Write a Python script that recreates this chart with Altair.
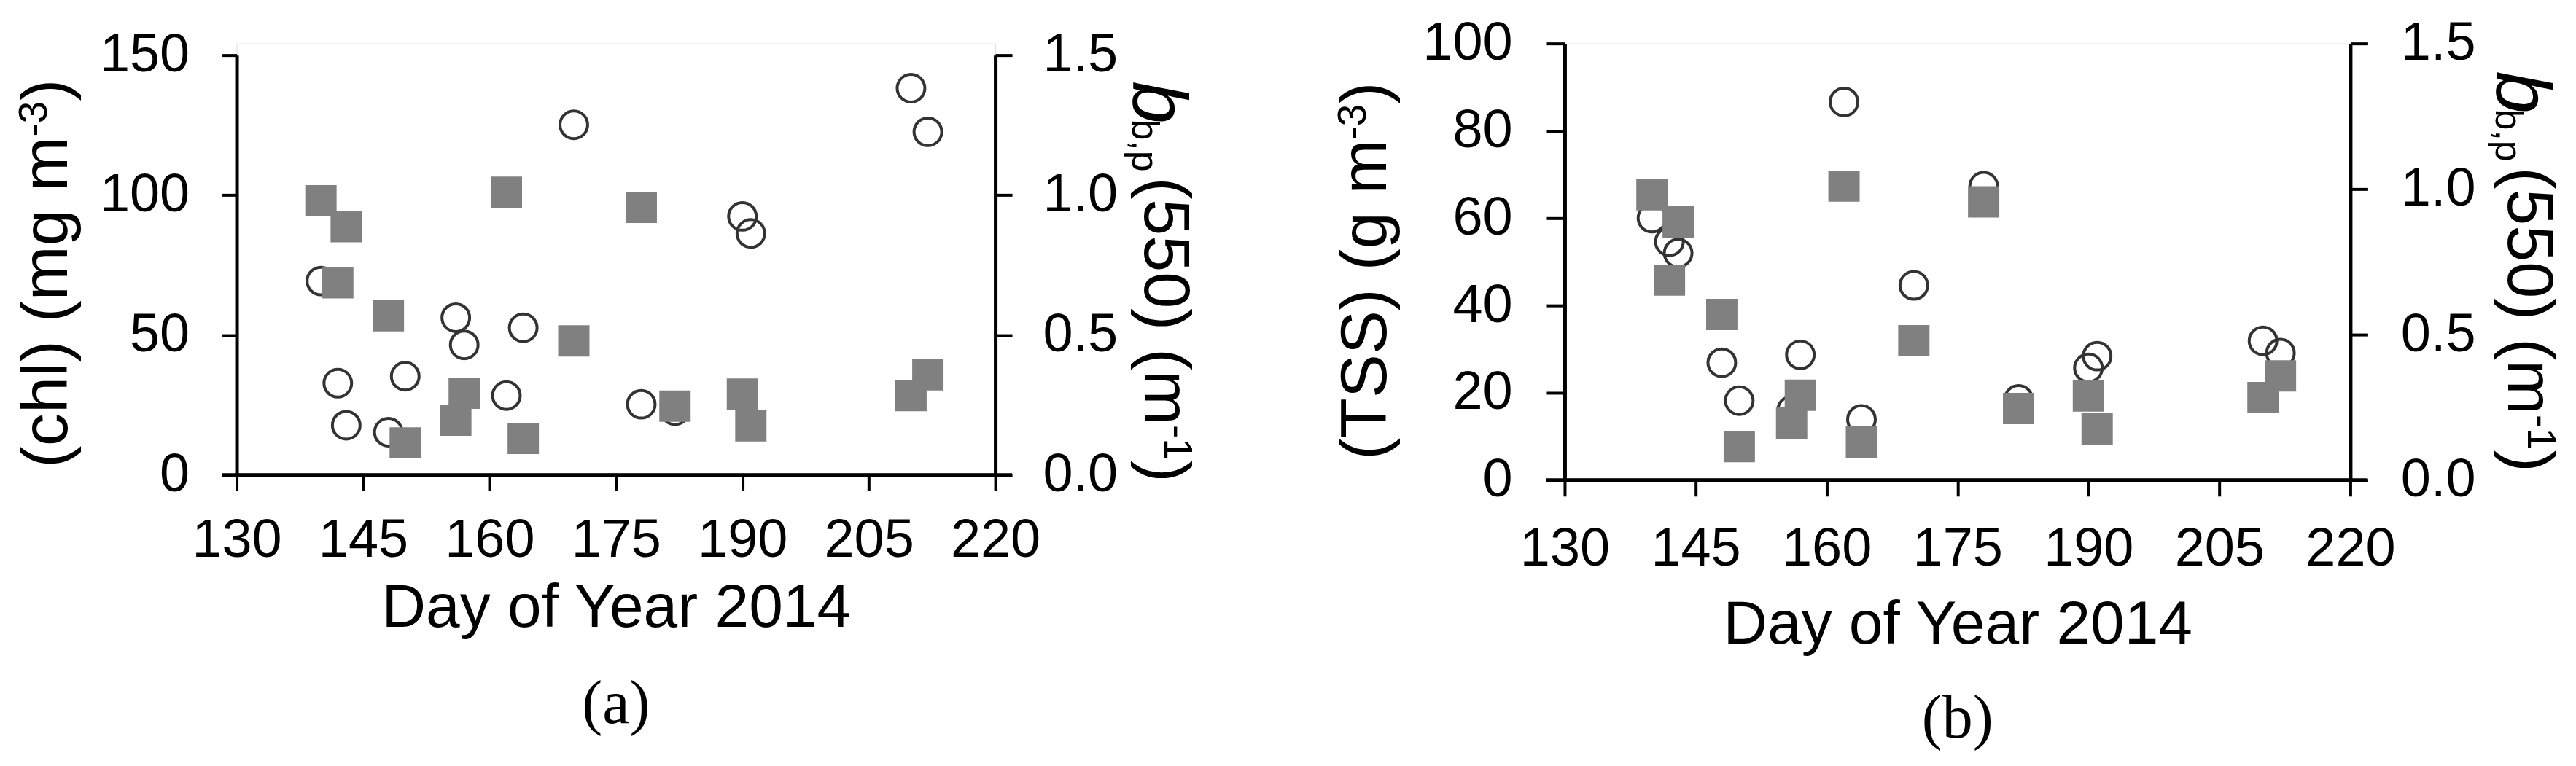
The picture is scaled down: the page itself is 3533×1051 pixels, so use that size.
import altair as alt
import pandas as pd

# ---- data ----
days = [140, 142, 143, 148, 150, 156, 157, 162, 164, 170, 178, 182, 190, 191, 210, 212]
chl = [69.3, 32.8, 17.8, 15.3, 35.3, 56.2, 46.5, 28.4, 52.6, 125.1, 25.3, 23.0, 92.4, 86.3, 138.2, 122.6]
tss = [60.0, 54.6, 52.0, 26.9, 18.2, 16.0, 28.7, 86.6, 13.9, 44.6, 67.3, 18.5, 25.7, 28.4, 31.9, 29.1]
bbp = [0.98, 0.687, 0.887, 0.569, 0.115, 0.196, 0.292, 1.01, 0.131, 0.479, 0.956, 0.246, 0.289, 0.176, 0.284, 0.358]

x_ticks = [130, 145, 160, 175, 190, 205, 220]
chl_ticks = [0, 50, 100, 150]
tss_ticks = [0, 20, 40, 60, 80, 100]
bbp_ticks = [0.0, 0.5, 1.0, 1.5]

FONT = "Liberation Sans"
SERIF = "Liberation Serif"
one = pd.DataFrame({"k": [0]})


def txt(s, x, y, angle, size, dx=0, dy=0, style="normal", font=FONT, align="left"):
    return alt.Chart(one).mark_text(
        text=s, angle=angle, fontSize=size, dx=dx, dy=dy, font=font, fontStyle=style,
        align=align, baseline="alphabetic", color="black"
    ).encode(x=alt.value(x), y=alt.value(y))


def panel(vals, yfield, ymax, yticks, left_main, left_w, caption, p):
    W, H, T = p["W"], p["H"], p["top"]
    df = pd.DataFrame({"day": days, yfield: vals, "bbp": bbp})
    xaxis = alt.Axis(values=x_ticks, title="Day of Year 2014", grid=False,
                     tickSize=p["xtick"], tickWidth=4, domainWidth=5,
                     labelFontSize=74, labelPadding=p["xlp"], labelFont=FONT,
                     labelOverlap=False, labelFlush=False,
                     titleFontSize=84, titlePadding=p["xtp"], titleFont=FONT,
                     titleFontWeight="normal", labelColor="black", titleColor="black",
                     domainColor="black", tickColor="black")
    xenc = alt.X("day:Q", scale=alt.Scale(domain=[130, 220], nice=False, zero=False), axis=xaxis)
    laxis = alt.Axis(orient="left", values=yticks, title=None, grid=False,
                     tickSize=p["ltick"], tickWidth=4, domainWidth=5,
                     labelFontSize=74, labelPadding=p["llp"], labelFont=FONT,
                     labelOverlap=False,
                     labelColor="black", domainColor="black", tickColor="black")
    raxis = alt.Axis(orient="right", values=bbp_ticks, format=".1f", title=None, grid=False,
                     tickSize=p["rtick"], tickWidth=4, domainWidth=5,
                     labelFontSize=74, labelPadding=p["rlp"], labelFont=FONT,
                     labelOverlap=False,
                     labelColor="black", domainColor="black", tickColor="black")
    circles = alt.Chart(df).mark_point(
        shape="circle", filled=False, size=1444, stroke="#333333", strokeWidth=4, opacity=1
    ).encode(x=xenc, y=alt.Y(f"{yfield}:Q",
                             scale=alt.Scale(domain=[0, ymax], nice=False, range=[H, T]),
                             axis=laxis))
    squares = alt.Chart(df).mark_square(size=1850, color="#808080", opacity=1).encode(
        x=xenc, y=alt.Y("bbp:Q", scale=alt.Scale(domain=[0, 1.5], nice=False, range=[H, T]),
                        axis=raxis))
    rule = alt.Chart(one).mark_rule(color="black", strokeWidth=5).encode(
        x=alt.value(-p["ltick"]), x2=alt.value(W + p["rtick"]), y=alt.value(H))

    lx, ly = p["lt"]
    rx, ry = p["rt"]
    texts = [
        # left title (reads bottom-to-top)
        txt(left_main, lx, ly, 270, 90),
        txt("-3", lx, ly, 270, 55, dx=left_w, dy=-28),
        txt(")", lx, ly, 270, 90, dx=left_w + 49),
        # right title b_b,p(550) (m-1) (reads top-to-bottom)
        txt("b", rx, ry, 90, 105, dy=16, style="italic"),
        txt("b,p", rx, ry, 90, 52, dx=52, dy=17),
        txt("(550) (m", rx, ry, 90, 90, dx=132),
        txt("-1", rx, ry, 90, 55, dx=472, dy=-27),
        txt(")", rx, ry, 90, 90, dx=521),
        # caption
        txt(caption, W / 2, H + p["cap"], 0, 84, font=SERIF, align="center"),
    ]
    return alt.layer(circles, squares, rule, *texts).resolve_scale(y="independent").properties(
        width=W, height=H)


# panel (a): plot area starts 16 px lower than panel (b)
pa = dict(W=1042, H=593, top=16, xtick=21, xlp=33, xtp=15, ltick=20, llp=45, rtick=23, rlp=42,
          lt=(-233, 583), rt=(1247, 52), cap=341)
pb = dict(W=1079, H=600, top=0, xtick=22, xlp=37, xtp=26, ltick=25, llp=47, rtick=24, rlp=45,
          lt=(-245, 572), rt=(1296, 38), cap=354)

chart_a = panel(chl, "chl", 150, chl_ticks, "(chl) (mg m", 455, "(a)", pa)
chart_b = panel(tss, "tss", 100, tss_ticks, "(TSS) (g m", 440, "(b)", pb)

chart = alt.hconcat(chart_a, chart_b, spacing=186).properties(
    padding={"left": 11, "top": 13, "right": 12, "bottom": 0}
).configure_view(stroke=None).configure(background="white")

chart.save("out.html", embed_options={"renderer": "svg", "actions": False})
